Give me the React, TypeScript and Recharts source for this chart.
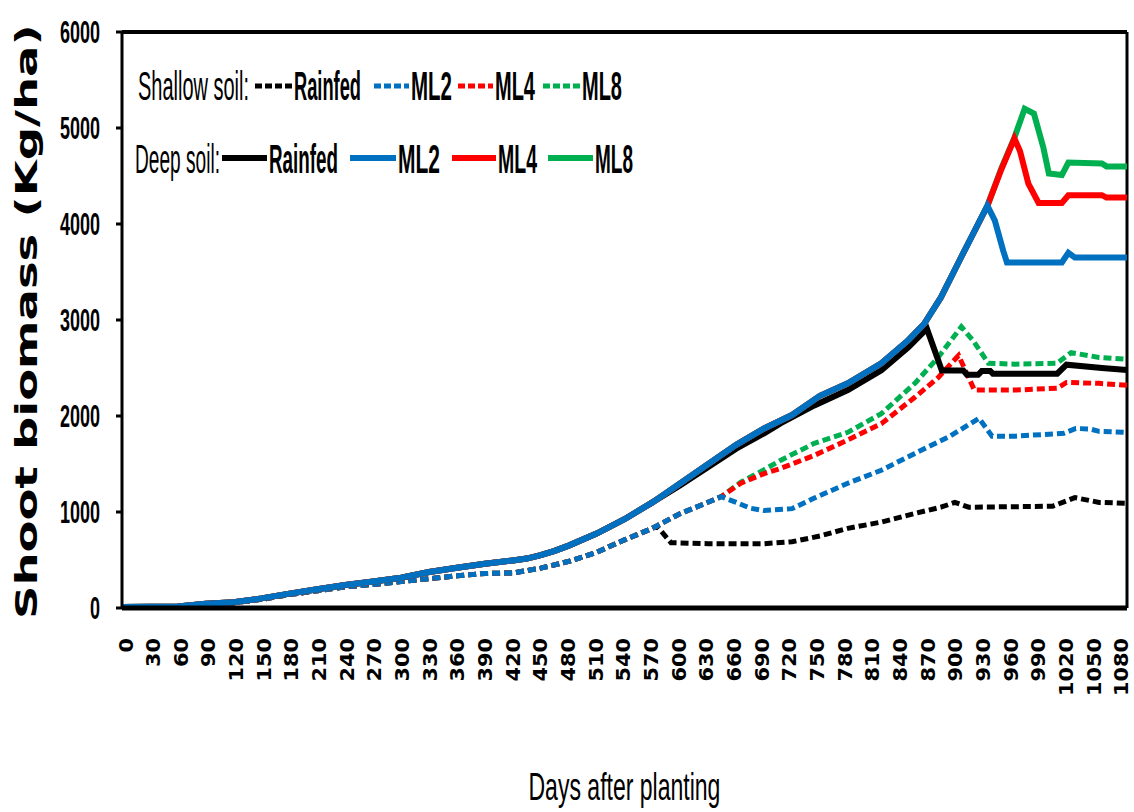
import { LineChart, Line, XAxis, YAxis, Legend, ReferenceLine } from "recharts";

type Pt = [number, number];

// days after planting on the x axis, every 30 days
const xTicks = [
  0, 30, 60, 90, 120, 150, 180, 210, 240, 270, 300, 330, 360, 390, 420, 450, 480, 510, 540,
  570, 600, 630, 660, 690, 720, 750, 780, 810, 840, 870, 900, 930, 960, 990, 1020, 1050, 1080,
];
const yTicks = [0, 1000, 2000, 3000, 4000, 5000, 6000];

// deep soil, all treatments together until ~day 570
const deepCommon: Pt[] = [
  [0, 10], [30, 12], [60, 15], [90, 45], [120, 60], [150, 100], [180, 150], [210, 195],
  [240, 240], [270, 275], [300, 315], [330, 375], [360, 420], [390, 460], [420, 495],
  [435, 515], [450, 550], [465, 595], [480, 650], [510, 775], [540, 925], [570, 1100],
];
// deep soil, irrigated (ML2/ML4/ML8) shared part
const deepIrrigated: Pt[] = [
  [600, 1300], [630, 1500], [660, 1700], [690, 1870], [720, 2010], [750, 2210], [780, 2340],
  [816, 2550], [845, 2790], [862, 2960], [880, 3235], [900, 3620], [930, 4190],
];
const deepRainfedTail: Pt[] = [
  [600, 1280], [630, 1470], [660, 1660], [690, 1820], [708, 1925], [744, 2110], [780, 2270],
  [816, 2475], [845, 2715], [865, 2910], [881, 2475], [904, 2475], [908, 2430], [920, 2430],
  [924, 2470], [933, 2470], [936, 2440], [1005, 2440], [1015, 2535], [1053, 2500], [1080, 2480],
];
const deepMl2Tail: Pt[] = [
  [938, 4035], [947, 3720], [951, 3600], [1010, 3600], [1017, 3700], [1024, 3650], [1080, 3650],
];
const deepMl4Tail: Pt[] = [
  [945, 4570], [959, 4890], [965, 4760], [974, 4420], [985, 4220], [1010, 4220],
  [1017, 4300], [1053, 4300], [1058, 4275], [1080, 4275],
];
const deepMl8Tail: Pt[] = [
  [945, 4580], [959, 4900], [970, 5200], [980, 5150], [990, 4800], [996, 4525],
  [1010, 4510], [1017, 4640], [1053, 4630], [1058, 4600], [1080, 4600],
];

// shallow soil
const shallowCommon: Pt[] = [
  [0, 10], [30, 12], [60, 15], [90, 40], [120, 55], [150, 90], [180, 140], [210, 180],
  [240, 220], [270, 245], [300, 275], [330, 305], [360, 335], [390, 360], [420, 365],
  [450, 415], [480, 485], [510, 580], [540, 710], [570, 830],
];
const shallowIrrigated: Pt[] = [[600, 985], [622, 1070], [644, 1160]];
const shallowRainfedTail: Pt[] = [
  [575, 850], [590, 680], [630, 670], [690, 670], [720, 690], [750, 750], [780, 830],
  [816, 895], [852, 985], [880, 1050], [895, 1100], [910, 1050], [1000, 1060],
  [1024, 1150], [1050, 1100], [1080, 1090],
];
const shallowMl2Tail: Pt[] = [
  [660, 1100], [675, 1040], [690, 1015], [720, 1035], [744, 1145], [780, 1300],
  [816, 1435], [852, 1610], [888, 1780], [921, 1975], [935, 1790], [960, 1790],
  [1012, 1820], [1025, 1870], [1040, 1865], [1050, 1840], [1080, 1830],
];
const shallowMl4Tail: Pt[] = [
  [665, 1300], [690, 1400], [708, 1455], [744, 1590], [780, 1750], [816, 1920],
  [852, 2195], [877, 2400], [899, 2630], [916, 2270], [960, 2270], [1005, 2290],
  [1015, 2350], [1050, 2340], [1080, 2320],
];
const shallowMl8Tail: Pt[] = [
  [665, 1310], [690, 1440], [708, 1540], [744, 1715], [780, 1830], [816, 2025],
  [852, 2340], [877, 2610], [902, 2930], [915, 2780], [931, 2550], [960, 2540],
  [1005, 2550], [1020, 2660], [1050, 2610], [1080, 2590],
];

const BLACK = "#000000";
const BLUE = "#0070C0";
const RED = "#FF0000";
const GREEN = "#00B050";
const DASH = "8 4";

const toRows = (pts: Pt[]) => pts.map(([d, v]) => ({ d, v }));

// drawing order: shallow first, deep on top; ML2 over ML4 over ML8
const series = [
  { key: "sR", color: BLACK, dashed: true, pts: [...shallowCommon, ...shallowRainfedTail] },
  { key: "s8", color: GREEN, dashed: true, pts: [...shallowCommon, ...shallowIrrigated, ...shallowMl8Tail] },
  { key: "s4", color: RED, dashed: true, pts: [...shallowCommon, ...shallowIrrigated, ...shallowMl4Tail] },
  { key: "s2", color: BLUE, dashed: true, pts: [...shallowCommon, ...shallowIrrigated, ...shallowMl2Tail] },
  { key: "dR", color: BLACK, dashed: false, pts: [...deepCommon, ...deepRainfedTail] },
  { key: "d8", color: GREEN, dashed: false, pts: [...deepCommon, ...deepIrrigated, ...deepMl8Tail] },
  { key: "d4", color: RED, dashed: false, pts: [...deepCommon, ...deepIrrigated, ...deepMl4Tail] },
  { key: "d2", color: BLUE, dashed: false, pts: [...deepCommon, ...deepIrrigated, ...deepMl2Tail] },
];

const NARROW = "'Liberation Sans Narrow', 'Liberation Sans', Arial, sans-serif";
const WIDE = "'DejaVu Sans', Verdana, sans-serif";

// the source picture is stretched vertically, so text gets squeezed/stretched to the measured width
const ctx = typeof document !== "undefined" ? document.createElement("canvas").getContext("2d") : null;
function naturalWidth(s: string, font: string) {
  if (!ctx) return s.length * 10;
  ctx.font = font;
  return ctx.measureText(s).width || s.length * 10;
}

function FitText({ x, y, width, text, family, size, weight = "normal", rotate = false }: any) {
  const k = width / naturalWidth(text, `${weight} ${size}px ${family}`);
  return (
    <text transform={`translate(${x},${y})${rotate ? " rotate(-90)" : ""} scale(${k},1)`}
      x={0} y={0} fontFamily={family} fontSize={size} fontWeight={weight} fill="#000">{text}</text>
  );
}

const legendRows = [
  {
    title: "Shallow soil:", titleX: 138, titleW: 111, lineY: 86, baseY: 100, dashed: true,
    items: [
      { name: "Rainfed", color: BLACK, x1: 255, x2: 292, tx: 294, tw: 67 },
      { name: "ML2", color: BLUE, x1: 374, x2: 409, tx: 411, tw: 41 },
      { name: "ML4", color: RED, x1: 458, x2: 493, tx: 495, tw: 40 },
      { name: "ML8", color: GREEN, x1: 543, x2: 580, tx: 582, tw: 40 },
    ],
  },
  {
    title: "Deep soil:", titleX: 135, titleW: 85, lineY: 158, baseY: 173, dashed: false,
    items: [
      { name: "Rainfed", color: BLACK, x1: 222, x2: 267, tx: 269, tw: 69 },
      { name: "ML2", color: BLUE, x1: 350, x2: 396, tx: 398, tw: 42 },
      { name: "ML4", color: RED, x1: 452, x2: 496, tx: 498, tw: 39 },
      { name: "ML8", color: GREEN, x1: 548, x2: 593, tx: 595, tw: 38 },
    ],
  },
];

function SoilLegend() {
  return (
    <svg width={700} height={200} style={{ display: "block" }}>
      {legendRows.map((row) => (
        <g key={row.title}>
          <FitText x={row.titleX} y={row.baseY} width={row.titleW} text={row.title} family={NARROW} size={40} />
          {row.items.map((it) => (
            <g key={it.name}>
              <line x1={it.x1} x2={it.x2} y1={row.lineY} y2={row.lineY} stroke={it.color}
                strokeWidth={row.dashed ? 5 : 6} strokeDasharray={row.dashed ? "7 3" : undefined} />
              <FitText x={it.tx} y={row.baseY} width={it.tw} text={it.name} family={NARROW} size={40} weight="bold" />
            </g>
          ))}
        </g>
      ))}
    </svg>
  );
}

function XTick({ x, y, payload }: any) {
  const s = String(payload.value);
  const len = s.length * 14.5;
  // labels sit slightly inside the axis ends in the source
  const cx = x + 3.5 - (x - 122) * 0.009 + 7;
  return <FitText x={cx} y={y + len} width={len} text={s} family={WIDE} size={20} weight="bold" rotate />;
}

function YTick({ x, y, payload }: any) {
  const s = String(payload.value);
  const len = s.length * 10;
  return <FitText x={x - len} y={y + 11} width={len} text={s} family={NARROW} size={31} weight="bold" />;
}

const yTitle = (props: any) => {
  const vb = props.viewBox;
  const cy = vb.y + vb.height / 2 + 2;
  return <FitText x={37} y={cy + 297} width={595} text="Shoot biomass (Kg/ha)" family={WIDE} size={30} weight="bold" rotate />;
};

const xTitle = (props: any) => {
  const vb = props.viewBox;
  return <FitText x={vb.x + vb.width / 2 - 96} y={vb.y + 192} width={192} text="Days after planting" family={NARROW} size={38} />;
};

export default function App() {
  return (
    <div style={{ position: "absolute", left: 0, top: 0, background: "#fff" }}>
      <LineChart width={1134} height={812} margin={{ top: 32, right: 7, left: 0, bottom: 0 }}>
        <XAxis dataKey="d" type="number" domain={[0, 1080]} ticks={xTicks} interval={0}
          height={204} tick={<XTick />} tickLine={false} tickSize={6} tickMargin={24}
          axisLine={{ stroke: "#000", strokeWidth: 5 }} label={xTitle} allowDuplicatedCategory={false} />
        <YAxis type="number" domain={[0, 6000]} ticks={yTicks} interval={0} width={122}
          tick={<YTick />} tickSize={6} tickMargin={16}
          tickLine={{ stroke: "#000", strokeWidth: 3 }}
          axisLine={{ stroke: "#000", strokeWidth: 3 }} label={yTitle} />
        <ReferenceLine y={6000} stroke="#000" strokeWidth={4} />
        <ReferenceLine x={1080} stroke="#000" strokeWidth={3} />
        {series.map((s) => (
          <Line key={s.key} data={toRows(s.pts)} dataKey="v" type="linear" stroke={s.color}
            strokeWidth={s.dashed ? 5 : 6} strokeDasharray={s.dashed ? DASH : undefined}
            dot={false} activeDot={false} isAnimationActive={false} />
        ))}
        <Legend verticalAlign="middle" align="center" layout="horizontal" content={<SoilLegend />}
          wrapperStyle={{ position: "absolute", left: 0, top: 0, width: 700, height: 200 }} />
      </LineChart>
    </div>
  );
}
